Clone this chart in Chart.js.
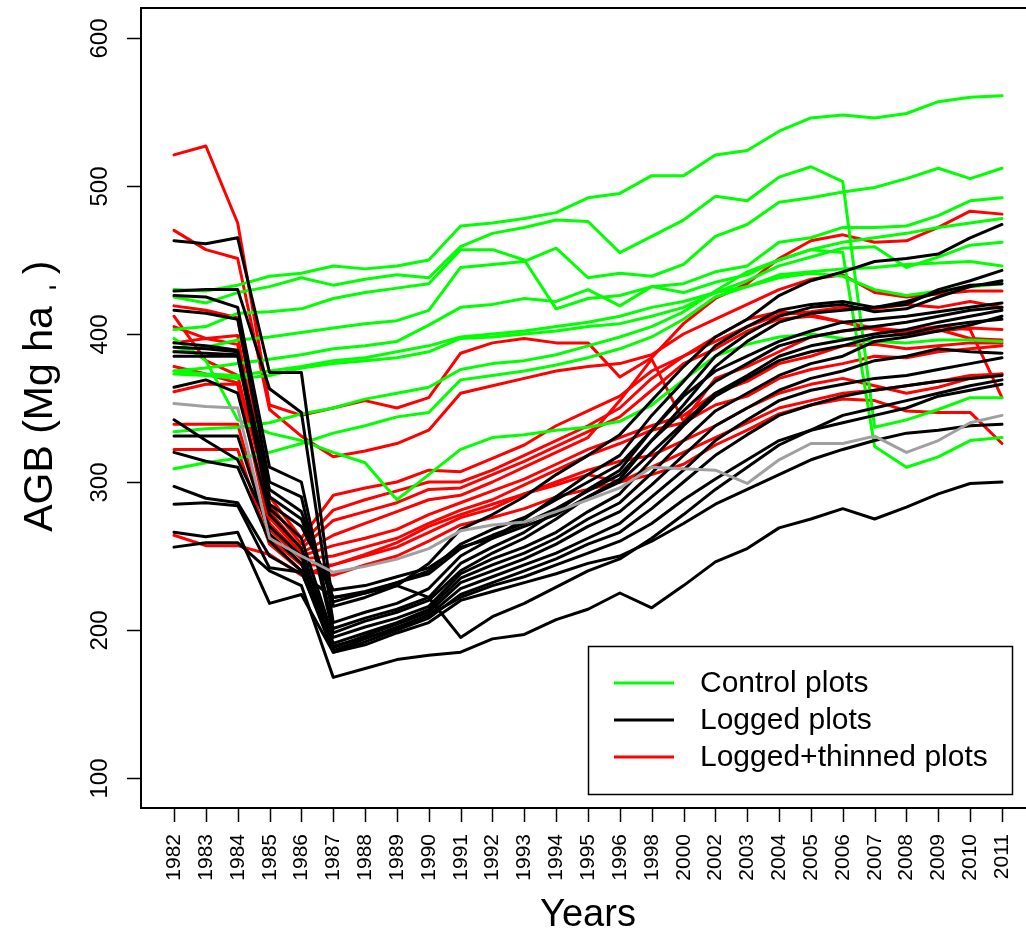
<!DOCTYPE html>
<html>
<head>
<meta charset="utf-8">
<script src="https://cdn.jsdelivr.net/npm/chart.js@4.4.1/dist/chart.umd.min.js"></script>
<style>
  html, body { margin: 0; padding: 0; background: #fff; overflow: hidden; }
  canvas { display: block; }
</style>
</head>
<body>
<canvas id="agbChart" width="1026" height="933"></canvas>
<script>
// census years (x axis is evenly spaced by census, not by calendar)
const years = ['1982', '1983', '1984', '1985', '1986', '1987', '1988', '1989', '1990', '1991',
  '1992', '1993', '1994', '1995', '1996', '1998', '2000', '2002', '2003', '2004',
  '2005', '2006', '2007', '2008', '2009', '2010', '2011'];

const yTicks = [100, 200, 300, 400, 500, 600];

// above-ground biomass per plot, Mg/ha
const controlPlots = [
  [430, 429, 433, 439, 441, 446, 444, 446, 450, 473, 475, 478, 482, 492, 495, 507, 507, 521, 524, 537, 546, 548, 546, 549, 557, 560, 561],
  [425, 421, 428, 432, 438, 433, 437, 440, 438, 459, 468, 472, 477, 476, 455, 466, 477, 493, 490, 506, 513, 503, 337, 342, 349, 357, 357],
  [403, 405, 414, 415, 417, 424, 428, 431, 434, 457, 457, 450, 417, 424, 426, 432, 434, 442, 446, 462, 465, 472, 472, 473, 480, 490, 492],
  [388, 391, 396, 398, 401, 404, 407, 409, 416, 445, 447, 449, 458, 438, 441, 439, 447, 466, 474, 489, 492, 496, 499, 505, 512, 505, 512],
  [375, 377, 380, 383, 386, 390, 392, 395, 406, 418, 420, 424, 422, 430, 419, 432, 428, 435, 440, 450, 457, 462, 465, 468, 472, 475, 478],
  [373, 372, 370, 372, 377, 380, 382, 384, 388, 397, 398, 400, 402, 405, 407, 412, 418, 428, 436, 446, 452, 458, 459, 445, 452, 460, 462],
  [397, 382, 342, 333, 328, 320, 313, 288, 305, 322, 330, 332, 335, 337, 341, 352, 369, 385, 393, 398, 400, 397, 395, 394, 396, 396, 395],
  [334, 336, 337, 340, 346, 350, 356, 360, 364, 376, 380, 382, 386, 392, 398, 405, 415, 429, 442, 450, 457, 455, 324, 310, 317, 328, 330],
  [309, 313, 316, 320, 326, 333, 338, 344, 347, 369, 372, 375, 379, 384, 390, 398, 410, 425, 432, 440, 442, 444, 445, 447, 448, 449, 446],
  [375, 373, 372, 375, 378, 382, 384, 388, 392, 398, 400, 402, 405, 408, 412, 418, 422, 428, 432, 438, 441, 439, 430, 426, 429, 432, 434]
];

const loggedPlots = [
  [463, 461, 465, 374, 374, 216, 222, 230, 245, 268, 278, 290, 305, 318, 332, 355, 378, 398, 410, 426, 436, 442, 449, 451, 454, 465, 474],
  [429, 430, 430, 363, 347, 205, 212, 218, 228, 250, 262, 275, 290, 305, 318, 345, 368, 392, 405, 416, 420, 422, 418, 420, 430, 436, 443],
  [426, 425, 418, 310, 300, 201, 208, 214, 222, 245, 256, 266, 280, 295, 308, 335, 360, 385, 400, 412, 418, 420, 415, 417, 425, 432, 436],
  [416, 414, 410, 300, 290, 198, 206, 212, 220, 240, 252, 262, 275, 290, 302, 328, 352, 378, 395, 408, 414, 416, 418, 422, 428, 433, 434],
  [394, 392, 389, 295, 280, 219, 225, 232, 240, 258, 268, 276, 288, 300, 312, 335, 358, 375, 385, 395, 402, 408, 410, 412, 415, 418, 421],
  [391, 390, 388, 290, 275, 222, 226, 232, 238, 255, 264, 272, 282, 294, 305, 328, 348, 368, 380, 392, 398, 402, 405, 408, 412, 416, 418],
  [388, 387, 386, 285, 270, 227, 230, 236, 242, 256, 262, 270, 278, 290, 300, 320, 340, 360, 372, 385, 392, 396, 400, 403, 408, 412, 416],
  [385, 385, 385, 282, 262, 195, 202, 208, 216, 238, 248, 256, 266, 280, 292, 315, 338, 358, 370, 382, 388, 392, 398, 400, 405, 408, 410],
  [364, 369, 360, 278, 255, 191, 198, 205, 214, 235, 244, 252, 262, 275, 286, 306, 328, 348, 360, 372, 380, 385, 395, 398, 402, 406, 412],
  [342, 328, 315, 270, 250, 188, 196, 204, 212, 232, 240, 248, 258, 270, 280, 298, 318, 338, 350, 362, 370, 375, 382, 385, 390, 388, 387],
  [331, 331, 331, 265, 245, 186, 194, 202, 210, 228, 236, 244, 252, 262, 272, 290, 308, 328, 342, 355, 362, 366, 370, 372, 376, 380, 384],
  [320, 314, 310, 260, 240, 185, 192, 200, 208, 224, 232, 240, 248, 258, 266, 282, 300, 318, 332, 345, 352, 358, 362, 365, 368, 370, 372],
  [297, 289, 286, 250, 238, 222, 225, 230, 222, 195, 209, 218, 229, 240, 248, 262, 278, 295, 310, 325, 335, 345, 350, 355, 360, 365, 369],
  [285, 286, 284, 242, 239, 189, 195, 200, 210, 222, 230, 236, 244, 252, 260, 272, 288, 302, 315, 328, 335, 340, 345, 350, 358, 362, 366],
  [266, 263, 266, 218, 224, 185, 190, 198, 205, 220, 226, 232, 238, 245, 250, 260, 272, 285, 295, 305, 315, 322, 328, 333, 335, 338, 339],
  [256, 259, 259, 240, 230, 168, 174, 180, 183, 185, 194, 197, 207, 214, 225, 215, 230, 246, 255, 269, 275, 282, 275, 283, 292, 299, 300]
];

const thinnedPlots = [
  [521, 527, 475, 352, 345, 350, 355, 350, 357, 387, 394, 397, 394, 394, 371, 384, 407, 424, 434, 451, 463, 467, 462, 463, 472, 483, 481],
  [470, 457, 451, 349, 331, 317, 321, 326, 335, 360, 365, 370, 375, 378, 380, 386, 400, 410, 420, 430, 437, 440, 428, 425, 427, 429, 429],
  [419, 416, 411, 290, 262, 291, 296, 300, 308, 307, 316, 325, 338, 348, 358, 375, 385, 395, 405, 413, 415, 418, 417, 420, 418, 422, 418],
  [412, 382, 372, 285, 258, 281, 288, 294, 300, 300, 308, 318, 328, 338, 350, 370, 385, 398, 410, 415, 413, 408, 404, 402, 405, 403, 357],
  [405, 397, 399, 280, 255, 274, 280, 286, 295, 296, 305, 314, 324, 334, 344, 362, 380, 390, 402, 410, 412, 408, 403, 400, 402, 404, 403],
  [394, 397, 393, 276, 252, 264, 272, 280, 288, 291, 300, 310, 320, 330, 355, 383, 341, 370, 378, 388, 398, 402, 404, 400, 403, 397, 396],
  [378, 373, 367, 272, 250, 257, 262, 268, 278, 286, 294, 302, 312, 322, 330, 338, 345, 360, 368, 380, 385, 392, 393, 390, 392, 394, 394],
  [361, 366, 366, 268, 248, 250, 256, 262, 272, 281, 288, 298, 308, 318, 326, 335, 340, 352, 358, 370, 376, 380, 385, 384, 388, 390, 392],
  [339, 339, 339, 262, 244, 244, 250, 256, 266, 276, 282, 292, 300, 308, 314, 318, 328, 338, 350, 360, 366, 370, 365, 360, 364, 370, 373],
  [322, 322, 322, 258, 240, 237, 244, 250, 260, 271, 276, 282, 290, 295, 300, 305, 312, 325, 335, 346, 352, 356, 355, 348, 347, 347, 326],
  [264, 257, 257, 251, 237, 244, 251, 259, 270, 278, 285, 292, 298, 305, 300, 310, 320, 330, 340, 350, 355, 360, 362, 365, 368, 372, 373]
];

const greyPlot = [353, 351, 350, 262, 250, 239, 243, 248, 255, 267, 271, 273, 280, 288, 296, 310, 309, 308, 299, 315, 326, 326, 331, 320, 328, 340, 345];

const GREEN = '#00ff00', BLACK = '#000000', RED = '#ff0000', GREY = '#a0a0a0';
const FONT = '"Liberation Sans", Arial, Helvetica, sans-serif';

function toSet(values, color) {
  return {
    data: values.map((v, i) => ({ x: i, y: v })),
    borderColor: color,
    borderWidth: 3,
    pointRadius: 0,
    tension: 0,
    fill: false,
    borderJoinStyle: 'round',
    borderCapStyle: 'round'
  };
}

const datasets = [toSet(greyPlot, GREY)]
  .concat(loggedPlots.map(v => toSet(v, BLACK)))
  .concat(controlPlots.map(v => toSet(v, GREEN)))
  .concat(thinnedPlots.map(v => toSet(v, RED)));

// base-graphics style frame, ticks, titles and legend
const frame = {
  id: 'frame',
  afterDraw(chart) {
    const { ctx, chartArea: a, scales: { x, y } } = chart;
    ctx.save();
    ctx.strokeStyle = '#000';
    ctx.lineWidth = 2;
    ctx.beginPath();
    ctx.moveTo(a.right + 5, a.top);
    ctx.lineTo(a.left, a.top);
    ctx.lineTo(a.left, a.bottom);
    ctx.lineTo(a.right + 5, a.bottom);
    ctx.stroke();

    ctx.lineWidth = 1.5;
    ctx.fillStyle = '#000';

    // y ticks, labels parallel to the axis
    ctx.font = '24px ' + FONT;
    ctx.textAlign = 'center';
    ctx.textBaseline = 'middle';
    yTicks.forEach(t => {
      const py = Math.round(y.getPixelForValue(t)) + 0.5;
      ctx.beginPath();
      ctx.moveTo(a.left - 14, py);
      ctx.lineTo(a.left, py);
      ctx.stroke();
      ctx.save();
      ctx.translate(100, py);
      ctx.rotate(-Math.PI / 2);
      ctx.fillText(String(t), 0, 0);
      ctx.restore();
    });

    // x ticks, labels perpendicular
    ctx.font = '21px ' + FONT;
    ctx.textAlign = 'right';
    years.forEach((yr, i) => {
      const px = Math.round(x.getPixelForValue(i)) + 0.5;
      ctx.beginPath();
      ctx.moveTo(px, a.bottom);
      ctx.lineTo(px, a.bottom + 14);
      ctx.stroke();
      ctx.save();
      ctx.translate(px, a.bottom + 26);
      ctx.rotate(-Math.PI / 2);
      ctx.fillText(yr, 0, 0);
      ctx.restore();
    });

    // axis titles
    ctx.font = '38px ' + FONT;
    ctx.textAlign = 'center';
    ctx.fillText('Years', 588, 916);

    ctx.save();
    ctx.translate(38, 396);
    ctx.rotate(-Math.PI / 2);
    ctx.font = '41px ' + FONT;
    ctx.textAlign = 'left';
    ctx.textBaseline = 'alphabetic';
    const main = 'AGB (Mg ha';
    const w = ctx.measureText(main).width;
    const start = -(w + 46) / 2;
    const base = 14;
    ctx.fillText(main, start, base);
    ctx.fillText('\u02cc', start + w + 12, base - 4);
    ctx.fillText(')', start + w + 32, base);
    ctx.restore();

    // legend
    const lx = 588, ly = 646, lw = 424, lh = 148;
    ctx.fillStyle = '#fff';
    ctx.fillRect(lx, ly, lw, lh);
    ctx.strokeStyle = '#000';
    ctx.lineWidth = 1.5;
    ctx.strokeRect(lx + 0.5, ly + 0.5, lw, lh);
    const entries = [['Control plots', GREEN], ['Logged plots', BLACK], ['Logged+thinned plots', RED]];
    ctx.font = '30px ' + FONT;
    ctx.textAlign = 'left';
    ctx.textBaseline = 'middle';
    entries.forEach(([label, color], k) => {
      const ry = 683 + k * 37;
      ctx.strokeStyle = color;
      ctx.lineWidth = 3;
      ctx.beginPath();
      ctx.moveTo(614, ry);
      ctx.lineTo(674, ry);
      ctx.stroke();
      ctx.fillStyle = '#000';
      ctx.fillText(label, 700, ry + 1);
    });
    ctx.restore();
  }
};

new Chart(document.getElementById('agbChart').getContext('2d'), {
  type: 'line',
  data: { datasets },
  options: {
    responsive: false,
    animation: false,
    devicePixelRatio: 1,
    layout: { padding: { left: 141, top: 8, right: 0, bottom: 125 } },
    scales: {
      x: { type: 'linear', min: -1.036, max: 26.754, display: false },
      y: { type: 'linear', min: 79.73, max: 620.27, display: false }
    },
    plugins: {
      legend: { display: false },
      tooltip: { enabled: false }
    }
  },
  plugins: [frame]
});
</script>
</body>
</html>
